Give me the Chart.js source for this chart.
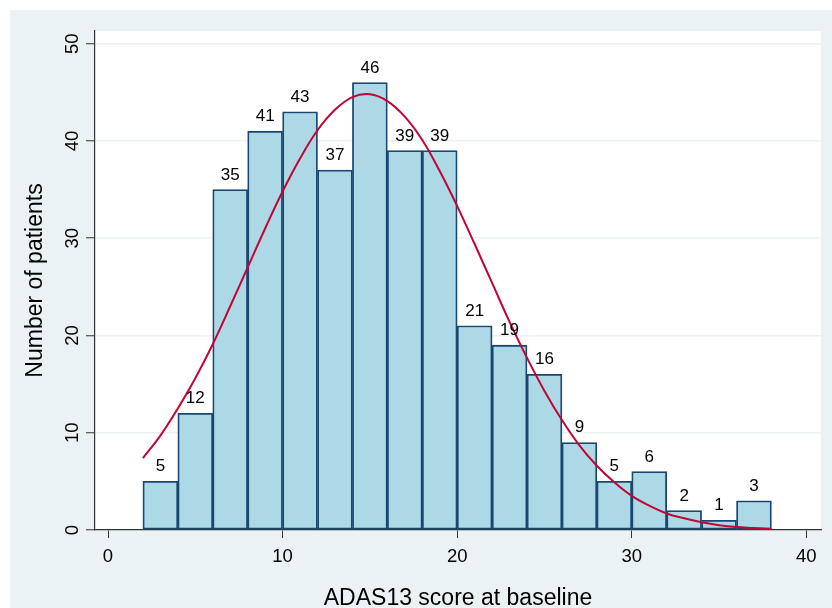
<!DOCTYPE html>
<html>
<head>
<meta charset="utf-8">
<script src="https://cdn.jsdelivr.net/npm/chart.js@4/dist/chart.umd.min.js"></script>
<style>
  body { margin: 0; background: #ffffff; }
  canvas { display: block; }
</style>
</head>
<body>
<canvas id="grafico" width="832" height="608"></canvas>
<script>
// histogram bins (width 2) and patient counts
const binStart = [2, 4, 6, 8, 10, 12, 14, 16, 18, 20, 22, 24, 26, 28, 30, 32, 34, 36];
const contagens = [5, 12, 35, 41, 43, 37, 46, 39, 39, 21, 19, 16, 9, 5, 6, 2, 1, 3];

// fitted normal density curve, scaled to counts
const curvaX = [2, 3, 4, 5, 6, 7, 8, 9, 10, 11, 12, 13, 14, 15, 16, 17, 18, 19, 20,
                21, 22, 23, 24, 25, 26, 27, 28, 29, 30, 31, 32, 33, 34, 35, 36, 37, 38];
const curvaY = [7.4, 9.7, 12.5, 15.6, 19.1, 23.0, 27.0, 31.0, 34.8, 38.2, 41.1, 43.2, 44.5, 44.8, 44.1, 42.5, 40.1, 36.9, 33.3,
                29.4, 25.4, 21.4, 17.7, 14.3, 11.3, 8.7, 6.6, 4.9, 3.5, 2.5, 1.7, 1.2, 0.8, 0.5, 0.3, 0.2, 0.1];

const xTicks = [0, 10, 20, 30, 40];
const yTicks = [0, 10, 20, 30, 40, 50];

const tituloX = "ADAS13 score at baseline";
const tituloY = "Number of patients";

const FONTE = '"Liberation Sans", Arial, Helvetica, sans-serif';
const FUNDO = "#eaf2f3";

const dadosBarras = binStart.map((b, i) => ({ x: b + 1, y: contagens[i] }));
const dadosCurva = curvaX.map((x, i) => ({ x: x, y: curvaY[i] }));

// background panel + white plot region
const fundoPlugin = {
  id: "fundo",
  beforeDraw(chart) {
    const ctx = chart.ctx;
    const a = chart.chartArea;
    ctx.save();
    ctx.fillStyle = "#ffffff";
    ctx.fillRect(0, 0, chart.width, chart.height);
    ctx.fillStyle = FUNDO;
    ctx.fillRect(10, 10, chart.width - 10, chart.height - 10);
    ctx.fillStyle = "#ffffff";
    ctx.fillRect(a.left, a.top, a.right - a.left, a.bottom - a.top);
    ctx.restore();
  }
};

// tick labels, axis titles and the counts above each bar
const textosPlugin = {
  id: "textos",
  afterDraw(chart) {
    const ctx = chart.ctx;
    const a = chart.chartArea;
    const sx = chart.scales.x;
    const sy = chart.scales.y;
    ctx.save();
    ctx.fillStyle = "#000000";
    ctx.textBaseline = "alphabetic";
    ctx.textAlign = "center";

    // x tick labels
    ctx.font = "18.5px " + FONTE;
    xTicks.forEach(v => ctx.fillText(String(v), sx.getPixelForValue(v), 562));

    // y tick labels, rotated
    yTicks.forEach(v => {
      ctx.save();
      ctx.translate(78, sy.getPixelForValue(v));
      ctx.rotate(-Math.PI / 2);
      ctx.fillText(String(v), 0, 0);
      ctx.restore();
    });

    // axis titles
    ctx.font = "23px " + FONTE;
    ctx.fillText(tituloX, (a.left + a.right) / 2, 605);
    ctx.save();
    ctx.translate(41.5, (a.top + a.bottom) / 2);
    ctx.rotate(-Math.PI / 2);
    ctx.fillText(tituloY, 0, 0);
    ctx.restore();

    // bar counts
    ctx.font = "17px " + FONTE;
    const meta = chart.getDatasetMeta(1);
    meta.data.forEach((bar, i) => {
      ctx.fillText(String(contagens[i]), bar.x, bar.y - 10);
    });
    ctx.restore();
  }
};

new Chart(document.getElementById("grafico"), {
  type: "bar",
  data: {
    datasets: [
      {
        type: "line",
        label: "Normal",
        data: dadosCurva,
        borderColor: "#c10534",
        borderWidth: 2,
        pointRadius: 0,
        tension: 0.4,
        fill: false,
        order: 0
      },
      {
        type: "bar",
        label: "Patients",
        data: dadosBarras,
        backgroundColor: "#add8e6",
        borderColor: "#1a476f",
        borderWidth: 1.8,
        borderSkipped: false,
        barPercentage: 1,
        categoryPercentage: 1,
        order: 1
      }
    ]
  },
  options: {
    responsive: false,
    animation: false,
    devicePixelRatio: 1,
    layout: { padding: { left: 10, top: 31, right: 11, bottom: 0 } },
    plugins: {
      legend: { display: false },
      tooltip: { enabled: false }
    },
    scales: {
      x: {
        type: "linear",
        offset: false,
        min: -0.745,
        max: 40.84,
        afterBuildTicks: s => { s.ticks = xTicks.map(v => ({ value: v })); },
        afterFit: s => { s.height = 78; },
        ticks: { display: false },
        grid: {
          offset: false,
          drawOnChartArea: false,
          drawTicks: true,
          tickLength: 8,
          tickColor: "#333333",
          tickWidth: 1
        },
        border: { display: true, color: "#333333", width: 1.2 }
      },
      y: {
        type: "linear",
        min: 0,
        max: 51.3,
        afterBuildTicks: s => { s.ticks = yTicks.map(v => ({ value: v })); },
        afterFit: s => { s.width = 85; },
        ticks: { display: false },
        grid: {
          color: FUNDO,
          lineWidth: 1.5,
          drawTicks: true,
          tickLength: 9,
          tickColor: "#333333",
          tickWidth: 1
        },
        border: { display: true, color: "#333333", width: 1.2 }
      }
    }
  },
  plugins: [fundoPlugin, textosPlugin]
});
</script>
</body>
</html>
